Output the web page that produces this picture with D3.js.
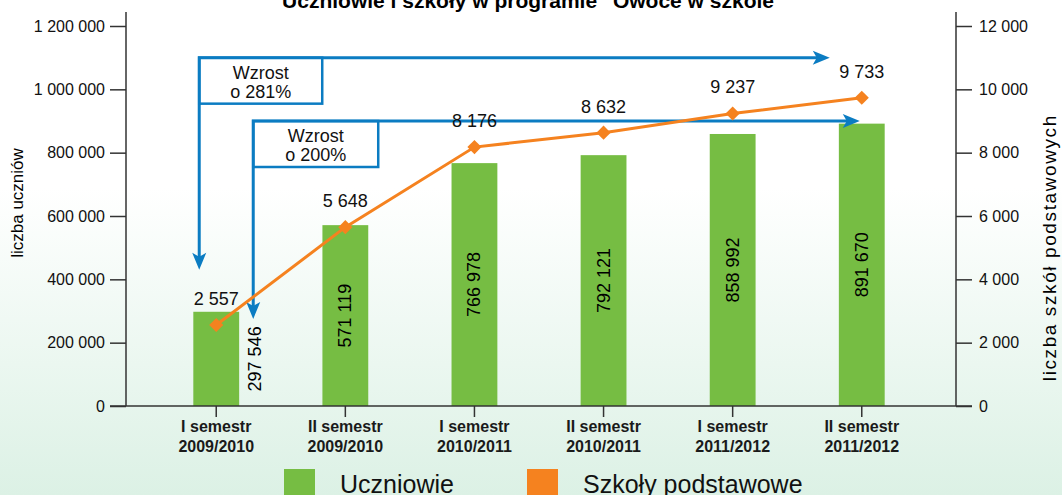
<!DOCTYPE html>
<html>
<head>
<meta charset="utf-8">
<script src="https://cdn.jsdelivr.net/npm/d3@7"></script>
<style>
  body { margin: 0; overflow: hidden; }
  svg { display: block; font-family: Arial, "Liberation Sans", sans-serif; }
</style>
</head>
<body>
<script>
const w = 1062;
const h = 495;

const categories = [
  ["I semestr", "2009/2010"],
  ["II semestr", "2009/2010"],
  ["I semestr", "2010/2011"],
  ["II semestr", "2010/2011"],
  ["I semestr", "2011/2012"],
  ["II semestr", "2011/2012"]
];
const students = [297546, 571119, 766978, 792121, 858992, 891670];
const schools = [2557, 5648, 8176, 8632, 9237, 9733];
const leftTicks = [0, 200000, 400000, 600000, 800000, 1000000, 1200000];
const rightTicks = [0, 2000, 4000, 6000, 8000, 10000, 12000];
const growth = [
  { text: ["Wzrost", "o 281%"], level: 1100000, tip: 430000 },
  { text: ["Wzrost", "o 200%"], level: 900000, tip: 275000 }
];
const legendItems = ["Uczniowie", "Szkoły podstawowe"];
const title = "Uczniowie i szkoły w programie \"Owoce w szkole\"";

const green = "#76bd43";
const orange = "#f5821f";
const blue = "#0b7cc2";
const axisColor = "#333";

const pl = d3.formatLocale({ decimal: ",", thousands: " ", grouping: [3], currency: ["", ""] });
const fmt = pl.format(",d");

const svg = d3.select("body").append("svg")
  .attr("width", w)
  .attr("height", h);

// background gradient
const grad = svg.append("defs").append("linearGradient")
  .attr("id", "bg").attr("x1", 0).attr("y1", 0).attr("x2", 0).attr("y2", 1);
grad.append("stop").attr("offset", "0%").attr("stop-color", "#ffffff");
grad.append("stop").attr("offset", "38%").attr("stop-color", "#ffffff");
grad.append("stop").attr("offset", "100%").attr("stop-color", "#dcf1e5");
svg.append("rect").attr("width", w).attr("height", h).attr("fill", "url(#bg)");

const xScale = d3.scaleBand()
  .domain(d3.range(categories.length))
  .range([152, 926])
  .paddingInner(0.645)
  .paddingOuter(0.32);
const step = xScale.step();
const xc = i => xScale(i) + xScale.bandwidth() / 2;

const yL = d3.scaleLinear().domain([0, 1200000]).range([406, 26]);
const yR = d3.scaleLinear().domain([0, 12000]).range([406, 26]);

// title (cut at the top like the source)
svg.append("text")
  .attr("x", 533).attr("y", 8)
  .attr("text-anchor", "middle")
  .attr("font-size", 21).attr("font-weight", "bold")
  .text(title);

// bars
svg.selectAll("rect.bar")
  .data(students)
  .enter()
  .append("rect")
  .attr("class", "bar")
  .attr("x", (d, i) => xScale(i))
  .attr("width", xScale.bandwidth())
  .attr("y", d => yL(d))
  .attr("height", d => yL(0) - yL(d))
  .attr("fill", green);

// bar values (rotated)
svg.selectAll("text.bval")
  .data(students)
  .enter()
  .append("text")
  .attr("class", "bval")
  .attr("font-size", 18)
  .attr("text-anchor", "middle")
  .attr("dominant-baseline", "central")
  .attr("transform", (d, i) => {
    const x = xc(i) + (i === 0 ? 39 : 0);
    const y = (yL(d) + yL(0)) / 2;
    return `translate(${x},${y}) rotate(-90)`;
  })
  .text(d => fmt(d));

// left axis
const leftAxis = d3.axisLeft(yL).tickValues(leftTicks).tickFormat(fmt)
  .tickSize(16).tickPadding(5).tickSizeOuter(0);
const gL = svg.append("g").attr("transform", "translate(126,0)").call(leftAxis);
gL.select(".domain").remove();
gL.selectAll(".tick line").attr("stroke", axisColor).attr("stroke-width", 1.5);
gL.selectAll(".tick text").attr("font-size", 16).attr("fill", "#111").attr("font-family", "Arial, 'Liberation Sans', sans-serif");
svg.append("line").attr("x1", 126).attr("x2", 126).attr("y1", yL(0)).attr("y2", yL(1200000) - 14)
  .attr("stroke", axisColor).attr("stroke-width", 1.5);

// right axis
const rightAxis = d3.axisRight(yR).tickValues(rightTicks).tickFormat(fmt)
  .tickSize(16).tickPadding(7).tickSizeOuter(0);
const gR = svg.append("g").attr("transform", "translate(956,0)").call(rightAxis);
gR.select(".domain").remove();
gR.selectAll(".tick line").attr("stroke", axisColor).attr("stroke-width", 1.5);
gR.selectAll(".tick text").attr("font-size", 16).attr("fill", "#111").attr("font-family", "Arial, 'Liberation Sans', sans-serif");
svg.append("line").attr("x1", 956).attr("x2", 956).attr("y1", yR(0)).attr("y2", yR(12000) - 14)
  .attr("stroke", axisColor).attr("stroke-width", 1.5);

// x axis
const xAxis = d3.axisBottom(xScale).tickSize(11).tickFormat("").tickSizeOuter(0);
const gX = svg.append("g").attr("transform", `translate(0,${yL(0)})`).call(xAxis);
gX.select(".domain").remove();
gX.selectAll(".tick line").attr("stroke", axisColor).attr("stroke-width", 1.5);
svg.append("line").attr("x1", 110).attr("x2", 972).attr("y1", yL(0)).attr("y2", yL(0))
  .attr("stroke", axisColor).attr("stroke-width", 1.5);

const catLabels = svg.selectAll("text.cat")
  .data(categories)
  .enter()
  .append("text")
  .attr("class", "cat")
  .attr("text-anchor", "middle")
  .attr("font-size", 16)
  .attr("font-weight", "bold")
  .attr("fill", "#1a1a1a");
catLabels.append("tspan").attr("x", (d, i) => xc(i)).attr("y", 432).text(d => d[0]);
catLabels.append("tspan").attr("x", (d, i) => xc(i)).attr("y", 452).text(d => d[1]);

// axis titles
svg.append("text")
  .attr("transform", `translate(23,${yL(600000) - 13}) rotate(-90)`)
  .attr("text-anchor", "middle")
  .attr("font-size", 17)
  .text("liczba uczniów");
svg.append("text")
  .attr("transform", `translate(1056,${yR(5000)}) rotate(-90)`)
  .attr("text-anchor", "middle")
  .attr("font-size", 19)
  .attr("letter-spacing", 1.6)
  .text("liczba szkół podstawowych");

// growth arrows
const arrowHead = (x, y, dir) => {
  // dir: "down" or "right", tip at (x,y)
  const L = 17, W = 7, N = 4;
  if (dir === "down") {
    return `M${x},${y} L${x - W},${y - L} L${x},${y - L + N} L${x + W},${y - L} Z`;
  }
  return `M${x},${y} L${x - L},${y - W} L${x - L + N},${y} L${x - L},${y + W} Z`;
};

const arrowX = [xc(0) - 17, xc(0) + 37];
const arrowEnd = [xc(5) - 32, xc(5) - 2];
const boxW = [123, 125];

growth.forEach((g, i) => {
  const x0 = arrowX[i];
  const yTop = yL(g.level);
  const yTip = yL(g.tip);
  const x1 = arrowEnd[i];
  const grp = svg.append("g");
  grp.append("rect")
    .attr("x", x0).attr("y", yTop)
    .attr("width", boxW[i]).attr("height", 46)
    .attr("fill", "#fff").attr("stroke", blue).attr("stroke-width", 2.5);
  grp.append("path")
    .attr("d", `M${x0},${yTip - 10} L${x0},${yTop} L${x1 - 10},${yTop}`)
    .attr("fill", "none").attr("stroke", blue).attr("stroke-width", 3);
  grp.append("path").attr("d", arrowHead(x0, yTip, "down")).attr("fill", blue);
  grp.append("path").attr("d", arrowHead(x1, yTop, "right")).attr("fill", blue);
  const t = grp.append("text")
    .attr("text-anchor", "middle")
    .attr("font-size", 18)
    .attr("fill", "#111");
  t.append("tspan").attr("x", x0 + boxW[i] / 2).attr("y", yTop + 21).text(g.text[0]);
  t.append("tspan").attr("x", x0 + boxW[i] / 2).attr("y", yTop + 40).text(g.text[1]);
});

// schools line
const line = d3.line()
  .x((d, i) => xc(i))
  .y(d => yR(d));
svg.append("path")
  .datum(schools)
  .attr("d", line)
  .attr("fill", "none")
  .attr("stroke", orange)
  .attr("stroke-width", 3);

svg.selectAll("path.marker")
  .data(schools)
  .enter()
  .append("path")
  .attr("class", "marker")
  .attr("d", d3.symbol().type(d3.symbolSquare).size(100))
  .attr("transform", (d, i) => `translate(${xc(i)},${yR(d)}) rotate(45)`)
  .attr("fill", orange);

svg.selectAll("text.sval")
  .data(schools)
  .enter()
  .append("text")
  .attr("class", "sval")
  .attr("x", (d, i) => xc(i))
  .attr("y", d => yR(d) - 20)
  .attr("text-anchor", "middle")
  .attr("font-size", 18)
  .attr("fill", "#111")
  .text(d => fmt(d));

// legend
const legend = svg.selectAll("g.legend")
  .data(legendItems)
  .enter()
  .append("g")
  .attr("class", "legend")
  .attr("transform", (d, i) => `translate(${284 + i * 243},469)`);
legend.append("rect")
  .attr("width", 31).attr("height", 30)
  .attr("fill", (d, i) => i === 0 ? green : orange);
legend.append("text")
  .attr("x", 56).attr("y", 24)
  .attr("font-size", 25)
  .attr("fill", "#111")
  .text(d => d);
</script>
</body>
</html>
